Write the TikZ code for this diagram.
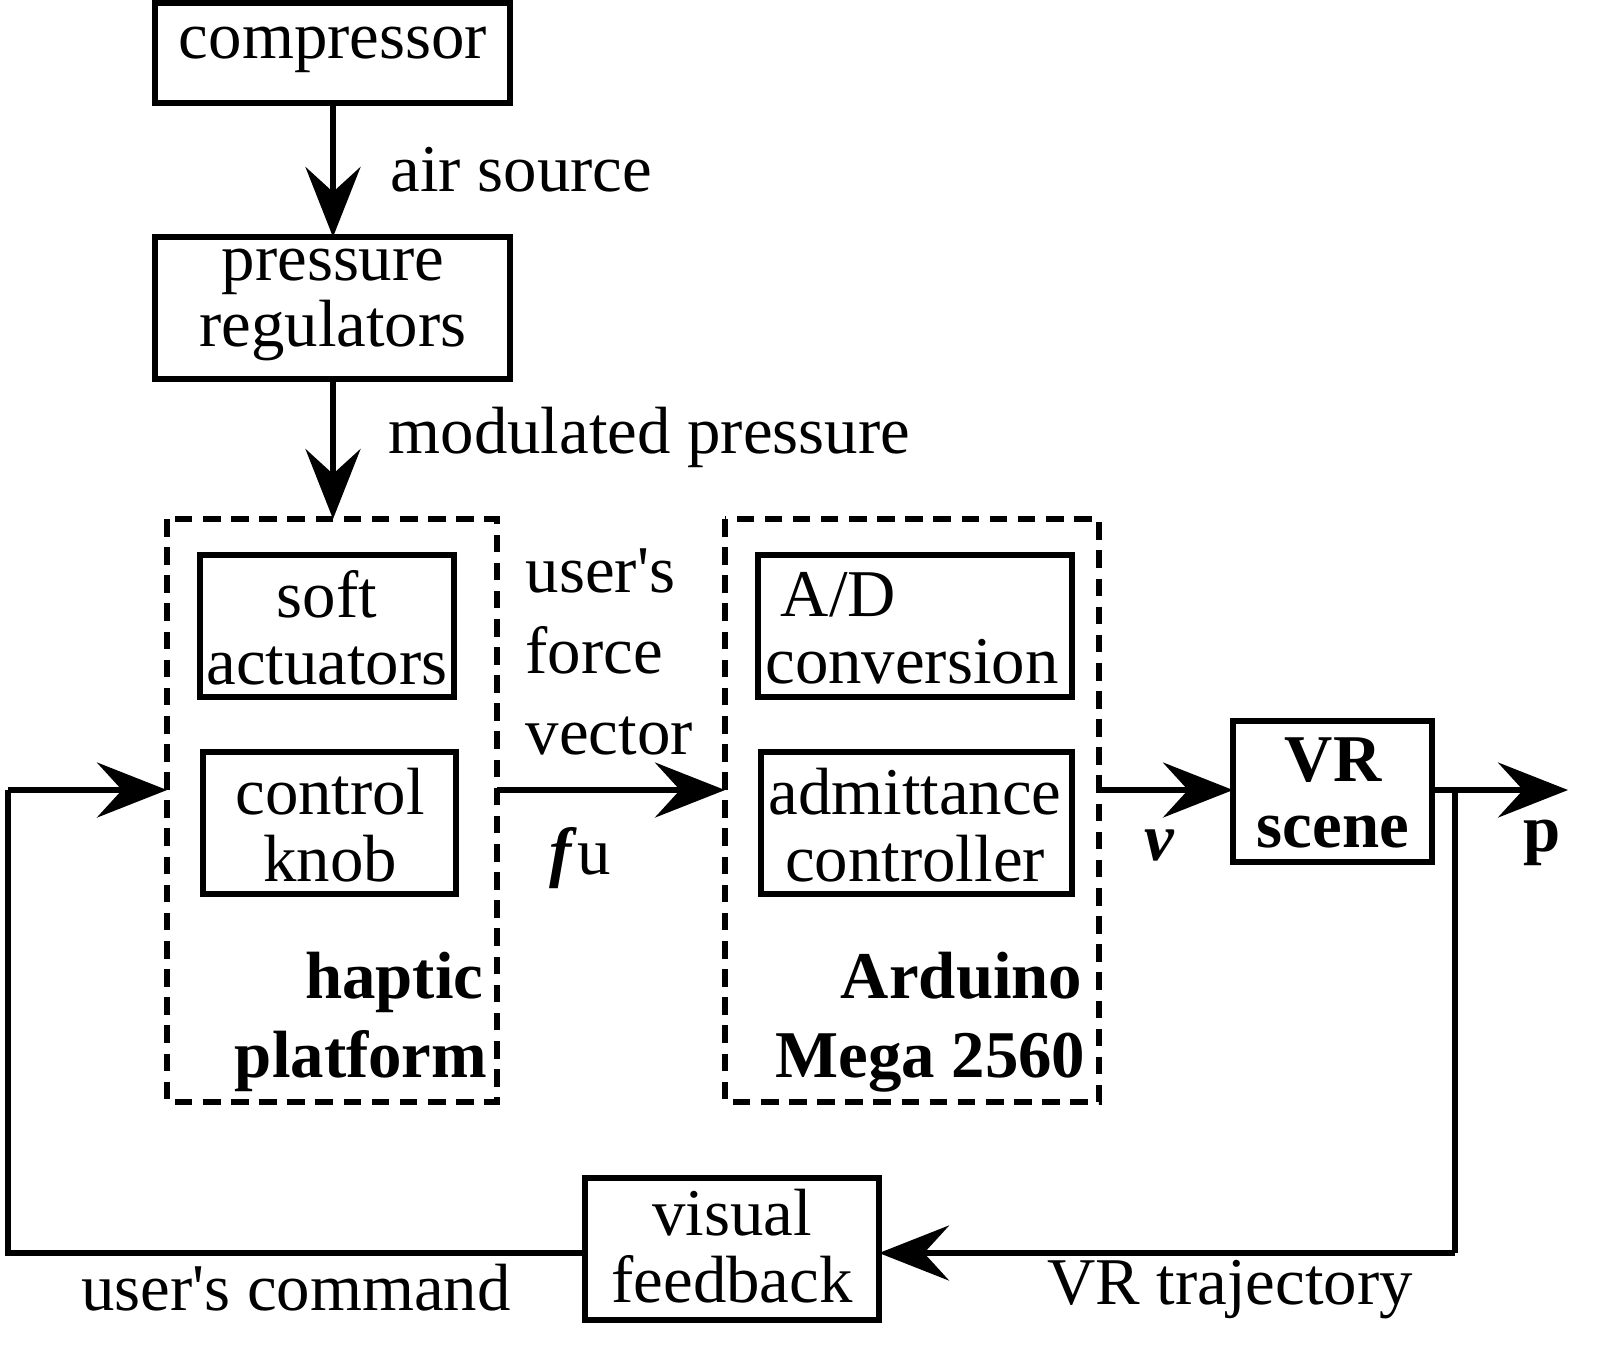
\documentclass[tikz,border=0pt]{standalone}
\usepackage{fontspec}
\setmainfont{Liberation Serif}
\usetikzlibrary{arrows.meta}
\begin{document}
\begin{tikzpicture}[x=0.01cm,y=-0.01cm,
  every node/.style={font=\fontsize{19}{19}\selectfont},
  box/.style={draw,line width=1.6pt,inner sep=0pt},
  dbox/.style={draw,line width=1.6pt,dash pattern=on 5pt off 3pt,inner sep=0pt},
  lbl/.style={inner sep=0pt,align=left},
  bl/.style={inner sep=0pt,anchor=base east,font=\fontsize{19}{19}\selectfont\bfseries},
  arr/.style={line width=1.6pt,-{Stealth[length=7mm,width=5.5mm,inset=2.5mm]}},
  ln/.style={line width=1.6pt}]
\useasboundingbox (0,0) rectangle (1600,1359);
\path[box] (155,3) rectangle (510,103);
\node (comptxt) at (333,50) {compressor};
\path[box] (155,237) rectangle (510,379);
\node[align=center] (preg) at (333,305) {pressure\\regulators};
\path[dbox] (167,519) rectangle (497,1102);
\path[dbox] (725,519) rectangle (1099,1102);
\path[box] (200,555) rectangle (454,697);
\node[align=center] (soft) at (327,628) {soft\\actuators};
\path[box] (203,752) rectangle (456,894);
\node[align=center] (knob) at (330,825) {control\\knob};
\path[box] (758,555) rectangle (1072,697);
\node[align=center] (ad) at (912,628) {\hspace*{-2.2em}A/D\\conversion};
\path[box] (761,752) rectangle (1072,894);
\node[align=center] (adm) at (915,825) {admittance\\controller};
\path[box] (1233,721) rectangle (1432,862);
\node[align=center,font=\fontsize{19}{19}\selectfont\bfseries] (vr) at (1333,793) {VR\\scene};
\path[box] (585,1178) rectangle (879,1320);
\node[align=center] (vis) at (732,1246) {visual\\feedback};
\node[bl] (hp1) at (484,998) {haptic};
\node[bl] (hp2) at (488,1077) {platform};
\node[bl] (ar1) at (1083,998) {Arduino};
\node[bl] (ar2) at (1086,1077) {Mega 2560};
\coordinate (c1) at (333,103); \coordinate (c2) at (333,237);
\coordinate (c3) at (333,379); \coordinate (c4) at (333,519);
\draw[arr] (c1) -- (c2);
\draw[arr] (c3) -- (c4);
\node[lbl,anchor=west] (air) at (390,170) {air source};
\node[lbl,anchor=west] (mod) at (388,437) {modulated pressure};
\coordinate (h1) at (497,790); \coordinate (a1) at (725,790);
\coordinate (a2) at (1099,790); \coordinate (v1) at (1233,790);
\coordinate (v2) at (1432,790); \coordinate (pe) at (1568,790);
\coordinate (tr) at (1455,790); \coordinate (br) at (1455,1253);
\coordinate (vr2) at (879,1253); \coordinate (vl) at (585,1253);
\coordinate (bll) at (8,1253); \coordinate (tl) at (8,790); \coordinate (h0) at (167,790);
\draw[arr] (h1) -- (a1);
\draw[arr] (a2) -- (v1);
\draw[arr] (v2) -- (pe);
\draw[ln] (tr) -- (br);
\draw[arr] (br) -- (vr2);
\draw[ln] (vl) -- (bll) -- (tl);
\draw[arr] (tl) -- (h0);
\node[lbl,anchor=west,align=left,font=\fontsize{19}{23}\selectfont] (ufv) at (525,652) {user\textquotesingle s\\force\\vector};
\node[lbl] (fu) at (580,858) {\textbf{\textit{f}}u};
\node[lbl] (v) at (1160,845) {\textbf{\textit{v}}};
\node[lbl] (p) at (1542,843) {\textbf{p}};
\node[lbl] (uc) at (296,1288) {user\textquotesingle s command};
\node[lbl] (vt) at (1230,1290) {VR trajectory};
\end{tikzpicture}
\end{document}
